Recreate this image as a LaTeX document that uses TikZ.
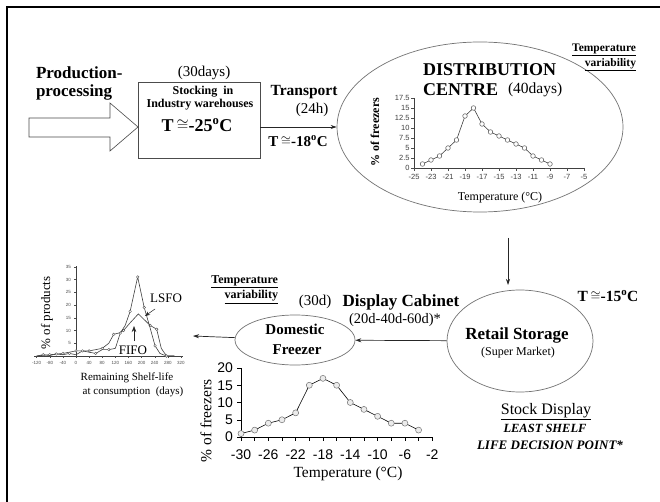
\documentclass[tikz,border=0pt]{standalone}
\usepackage{fontspec}
\setmainfont{Liberation Serif}
\newfontfamily\arialfont{Liberation Sans}
\usetikzlibrary{arrows.meta,shapes.geometric}
\newcommand\tapx[1]{T\,\raisebox{0.05em}{\scalebox{0.9}{$\cong$}}#1\textsuperscript{o}C}
\newcommand\fs[1]{\fontsize{#1}{#1}\selectfont}
\begin{document}
\begin{tikzpicture}[x=1pt,y=-1pt,
  txt/.style={inner sep=0pt, outer sep=0pt},
  arr/.style={draw=black!85, line width=0.7pt, -{Stealth[length=6pt,width=4pt]}},
  ell/.style={ellipse, draw=black!55, line width=0.7pt, inner sep=0pt},
  axisline/.style={draw=black!75, line width=0.7pt},
  curve/.style={draw=black!75, line width=0.6pt},
  dot/.style={draw=black!65, fill=white, line width=0.5pt}]
\useasboundingbox (0,0) rectangle (660,502);
\fill[white] (0,0) rectangle (660,502);
% frame
\draw[line width=1.5pt] (7,502) -- (7,7) -- (660,7);

% ---------- top row ----------
\node[txt, anchor=west, font=\bfseries\fs{17}] (prod1) at (36,73) {Production-};
\node[txt, anchor=west, font=\bfseries\fs{17}] (prod2) at (36,92) {processing};
\draw[draw=black!70, line width=0.6pt] (29,118) -- (110,118) -- (110,103) -- (138,127) -- (110,151) -- (110,137) -- (29,137) -- cycle;

\node[draw=black!70, line width=0.8pt, minimum width=122pt, minimum height=76pt, inner sep=0pt] (box) at (199,120) {};
\node[txt, font=\fs{15}] (d30) at (204,73) {(30days)};
\node[txt, font=\bfseries\fs{12}] (stock1) at (203,92) {Stocking\ \ in};
\node[txt, font=\bfseries\fs{12}] (stock2) at (200,105) {Industry warehouses};
\node[txt, font=\bfseries\fs{18}] (t25) at (197,125) {\tapx{-25}};

\node[txt, font=\bfseries\fs{15.5}] (transport) at (304,92) {Transport};
\node[txt, font=\fs{15}] (h24) at (312,110) {(24h)};
\node[txt, font=\bfseries\fs{15}] (t18) at (298,141) {\tapx{-18}};

% distribution centre
\node[ell, minimum width=286pt, minimum height=170pt] (dc) at (480,127) {};
\draw[arr] (box.east |- dc) -- (dc);
\node[txt, anchor=west, font=\bfseries\fs{18}] (dist) at (423,70) {DISTRIBUTION};
\node[txt, anchor=west, font=\bfseries\fs{18}] (centre) at (423,90) {CENTRE};
\node[txt, anchor=west, font=\fs{15.5}] (d40) at (508,90) {(40days)};
\node[txt, anchor=east, font=\bfseries\fs{11.5}] (tv1) at (636,50) {\underline{Temperature}};
\node[txt, anchor=east, font=\bfseries\fs{11.5}] (tv2) at (636,65) {\underline{variability}};

% DC chart
\draw[axisline] (414,98) -- (414,168) -- (584,168);
\foreach \v [count=\i] in {0,2.5,5,7.5,10,12.5,15,17.5} {
  \draw[black!70] (414,{168-4*\v}) -- (411,{168-4*\v});
  \node[txt, anchor=east, font=\arialfont\fs{7.5}, text=black!75] (dcy\i) at (409.5,{168-4*\v}) {\v};
}
\foreach \t [count=\i] in {-25,-23,...,-5} {
  \draw[black!70] ({414+(\t+25)*8.5},168) -- ({414+(\t+25)*8.5},171);
  \node[txt, font=\arialfont\fs{7.5}, text=black!75] (dcx\i) at ({414+(\t+25)*8.5},177) {\t};
}
\draw[curve] (422.5,164) -- (431,160) -- (439.5,156) -- (448,148) -- (456.5,140) -- (465,116) -- (473.5,108) -- (482,124) -- (490.5,132) -- (499,136) -- (507.5,140) -- (516,144) -- (524.5,148) -- (533,156) -- (541.5,160) -- (550,164);
\foreach \p in {(422.5,164),(431,160),(439.5,156),(448,148),(456.5,140),(465,116),(473.5,108),(482,124),(490.5,132),(499,136),(507.5,140),(516,144),(524.5,148),(533,156),(541.5,160),(550,164)}
  \draw[dot] \p circle[radius=2.3pt];
\node[txt, rotate=90, font=\bfseries\fs{12}] (dcyl) at (375,132) {\% of freezers};
\node[txt, font=\fs{12}] (dcxl) at (500,198) {Temperature (°C)};

% ---------- right column ----------
\coordinate (va1) at (508,238);
\coordinate (va2) at (508,285);
\draw[arr] (va1) -- (va2);
\node[ell, minimum width=146pt, minimum height=102pt] (rs) at (520,341) {};
\node[txt, font=\bfseries\fs{17}] (rs1) at (517,335) {Retail Storage};
\node[txt, font=\fs{12}] (rs2) at (518,353) {(Super Market)};
\node[txt, font=\bfseries\fs{15.5}] (t15) at (608,296) {\tapx{-15}};
\node[txt, font=\fs{16}] (sd1) at (546,412) {\underline{Stock Display}};
\node[txt, font=\bfseries\itshape\fs{12.5}] (sd2) at (545,428) {LEAST SHELF};
\node[txt, font=\bfseries\itshape\fs{13}] (sd3) at (550,445) {LIFE DECISION POINT*};

% ---------- middle row ----------
\node[ell, minimum width=120pt, minimum height=50pt] (df) at (295,340) {};
\node[txt, font=\bfseries\fs{15}] (df1) at (295,329) {Domestic};
\node[txt, font=\bfseries\fs{15}] (df2) at (297,350) {Freezer};
\draw[arr] (rs) -- (df);
\node[txt, font=\bfseries\fs{17}] (dcab) at (401,302) {Display Cabinet};
\node[txt, font=\fs{15}] (d30b) at (315,302) {(30d)};
\node[txt, font=\fs{14.5}] (d2040) at (395,320) {(20d-40d-60d)*};
\node[txt, anchor=east, font=\bfseries\fs{12}] (tv3) at (278,282) {\underline{Temperature}};
\node[txt, anchor=east, font=\bfseries\fs{12}] (tv4) at (278,297) {\underline{variability}};
\coordinate (lefttip) at (193,336);
\draw[arr] (df) -- (lefttip);

% bottom chart
\draw[axisline, draw=black] (241,368) -- (241,437) -- (432.24,437);
\foreach \v [count=\i] in {0,5,10,15,20} {
  \draw (241,{437-3.45*\v}) -- (237,{437-3.45*\v});
  \node[txt, anchor=east, font=\arialfont\fs{14}] (bcy\i) at (233,{437-3.45*\v}) {\v};
}
\foreach \t in {-30,-28,...,-2}
  \draw ({241+(\t+30)*6.83},437) -- ({241+(\t+30)*6.83},441);
\foreach \t [count=\i] in {-30,-26,...,-2}
  \node[txt, font=\arialfont\fs{14}] (bcx\i) at ({241+(\t+30)*6.83},455) {\t};
\draw[line width=0.6pt] (241,433.55) \foreach \t/\v in {-28/2,-26/4,-24/5,-22/7,-20/15,-18/17,-16/15,-14/10,-12/8,-10/6,-8/4,-6/4,-4/2} { -- ({241+(\t+30)*6.83},{437-3.45*\v}) };
\foreach \t/\v in {-30/1,-28/2,-26/4,-24/5,-22/7,-20/15,-18/17,-16/15,-14/10,-12/8,-10/6,-8/4,-6/4,-4/2}
  \draw[draw=black!55, fill=black!8, line width=0.5pt] ({241+(\t+30)*6.83},{437-3.45*\v}) circle[radius=3pt];
\node[txt, rotate=90, font=\fs{15.5}] (bcyl) at (206,421) {\% of freezers};
\node[txt, font=\fs{15.5}] (bcxl) at (348,474) {Temperature (°C)};

% left chart (shelf life)
\draw[axisline, line width=0.5pt] (76,266) -- (76,356);
\draw[axisline, line width=0.5pt] (34,356) -- (183,356);
\foreach \v [count=\i] in {5,10,...,35} {
  \draw[black!70, line width=0.4pt] (76,{356-2.55*\v}) -- (74,{356-2.55*\v});
  \node[txt, anchor=east, font=\arialfont\fs{4.5}, text=black!70] (lcy\i) at (71,{356-2.55*\v}) {\v};
}
\foreach \d [count=\i] in {-120,-80,...,320} {
  \draw[black!70, line width=0.4pt] ({76+0.328*\d},356) -- ({76+0.328*\d},358);
  \node[txt, font=\arialfont\fs{4.5}, text=black!70] (lcx\i) at ({76+0.328*\d},362.5) {\d};
}
% FIFO (broad)
\draw[curve] (36.6,356) \foreach \d/\v in {-80/0.5,-40/1,0/2,20/2,40/2,60/2.5,80/3,100/5,115/8.5,130/9,145/10,165/13,190/16.5,210/14,226/12,246/10.5,260/3,276/0,300/0} { -- ({76+0.328*\d},{356-2.55*\v}) };
\foreach \d/\v in {-80/0.5,-40/1,0/2,40/2,80/3,115/8.5,145/10,226/12,246/10.5,276/0}
  \draw[dot, line width=0.4pt] ({76+0.328*\d},{356-2.55*\v}) circle[radius=1.3pt];
% LSFO (sharp)
\draw[curve] (36.6,356) \foreach \d/\v in {-100/0.5,-80/0.2,-60/0.8,-40/0.5,-20/1,0/0.5,20/2,40/1.5,60/1,80/2.5,100/2.5,120/3,135/9,150/12,165/17.5,188/31,208/19,226/11,241/4,256/1,276/0,300/0} { -- ({76+0.328*\d},{356-2.55*\v}) };
\foreach \d/\v in {-100/0.5,-60/0.8,-20/1,20/2,60/1,100/2.5,135/9,165/17.5,188/31,208/19,241/4,276/0}
  \draw[dot, line width=0.4pt] ({76+0.328*\d},{356-2.55*\v}) circle[radius=1.3pt];
\node[txt, rotate=90, font=\fs{13}] (lcyl) at (47,313) {\% of products};
\node[txt, font=\fs{13}] (lsfo) at (166,298) {LSFO};
\node[txt, font=\fs{13}] (fifo) at (133,350) {FIFO};
\coordinate (lsfoA) at (155,309);
\coordinate (lsfoB) at (145,316);
\draw[arr, line width=0.5pt, -{Stealth[length=5pt,width=4pt]}] (lsfoA) -- (lsfoB);
\coordinate (fifoA) at (134,341);
\coordinate (fifoB) at (134,326);
\draw[arr, line width=0.6pt, -{Stealth[length=6pt,width=4.5pt]}] (fifoA) -- (fifoB);
\node[txt, font=\fs{11}] (rem1) at (127,378) {Remaining Shelf-life};
\node[txt, font=\fs{11}] (rem2) at (133,392) {at consumption\ \ (days)};
\end{tikzpicture}
\end{document}
